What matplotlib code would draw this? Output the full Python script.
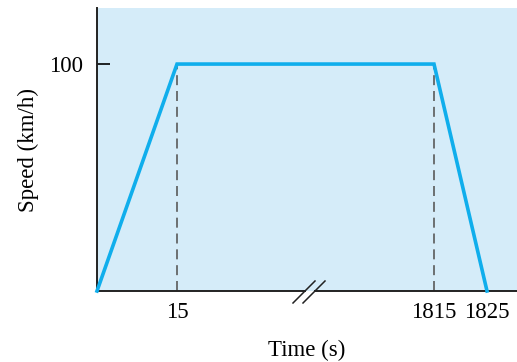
import numpy as np
import matplotlib
matplotlib.use("Agg")
import matplotlib.pyplot as plt

time_s = [0, 15, 1815, 1825]
speed_kmh = [0, 100, 100, 0]
xtick_vals = [15, 1815, 1825]
ytick_vals = [100]

# piecewise (broken) x scale
_bx = [0, 15, 1815, 1825, 1850]
_bp = [0, 80, 337, 390, 522.5]
def fwd(x):
    return np.interp(x, _bx, _bp)
def inv(p):
    return np.interp(p, _bp, _bx)

plt.rcParams['font.family'] = ['Liberation Serif', 'DejaVu Serif']
fig = plt.figure(figsize=(5.17, 3.62), dpi=100)
ax = fig.add_axes([97/517, 71/362, 420/517, 283/362])
ax.set_xscale('function', functions=(fwd, inv))
ax.set_facecolor('#D5ECF9')
ax.plot(time_s, speed_kmh, color='#10AEEC', lw=2.6, solid_joinstyle='miter', clip_on=False, zorder=3)
for t, s in zip(time_s[1:3], speed_kmh[1:3]):
    ax.plot([t, t], [0, s], color='#5a5a5a', lw=1.2, ls=(0, (6, 3.5)), zorder=2)
ax.set_xlim(0, inv(420))
ax.set_ylim(0, 124.7)
ax.set_xticks(xtick_vals)
ax.set_xticklabels([str(v) for v in xtick_vals])
ax.set_yticks(ytick_vals)
ax.set_yticklabels([str(v) for v in ytick_vals])
ax.xaxis.set_minor_locator(matplotlib.ticker.NullLocator())
ax.tick_params(axis='x', length=0, labelsize=16.5, pad=8)
ax.tick_params(axis='y', direction='in', length=9, width=1.2, labelsize=16.5, pad=10)
for s in ['top', 'right']:
    ax.spines[s].set_visible(False)
for s in ['left', 'bottom']:
    ax.spines[s].set_linewidth(1.4)
    ax.spines[s].set_color('#222222')
ax.set_xlabel('Time (s)', fontsize=16.5, labelpad=12)
ax.set_ylabel('Speed (km/h)', fontsize=16.5, labelpad=7)

# axis break marks (in pixels relative to axes)
px_x = 1/420
px_y = 1/283
ax.add_patch(plt.Rectangle((306*px_x - 97*px_x, -2*px_y), 8*px_x, 2*px_y, transform=ax.transAxes,
                           color='white', clip_on=False, zorder=5, lw=0))
ax.add_patch(plt.Rectangle((306*px_x - 97*px_x, 0), 8*px_x, 2*px_y, transform=ax.transAxes,
                           color='#D5ECF9', clip_on=False, zorder=5, lw=0))
for x0 in (293, 303):
    ax.plot([(x0 - 97)*px_x, (x0 + 22 - 97)*px_x], [-12*px_y, 10*px_y], transform=ax.transAxes,
            color='#222222', lw=1.1, clip_on=False, zorder=6)

fig.savefig('out.png', dpi=100)
